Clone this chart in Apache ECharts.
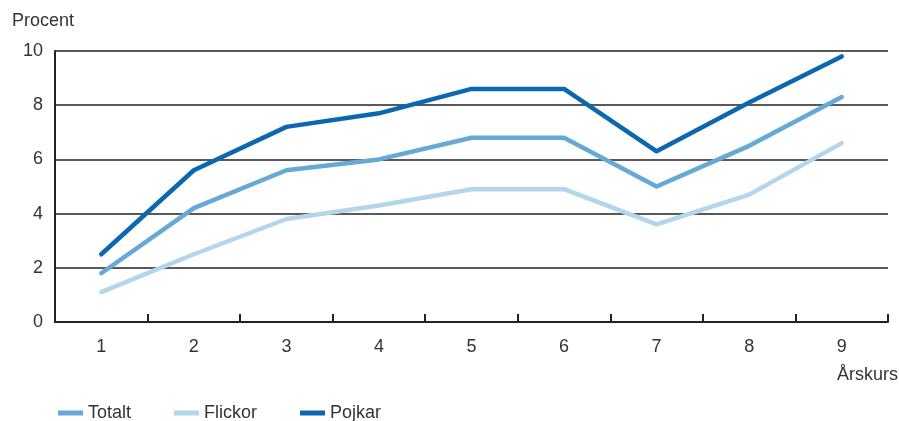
<!DOCTYPE html>
<html><head><meta charset="utf-8">
<script src="https://cdn.jsdelivr.net/npm/echarts@6/dist/echarts.min.js"></script>
<style>html,body{margin:0;padding:0;background:#fff}#c{width:899px;height:421px}</style>
</head><body><div id="c"></div>
<script>
const categories = ['1','2','3','4','5','6','7','8','9'];
const totalt = [1.8, 4.2, 5.6, 6.0, 6.8, 6.8, 5.0, 6.5, 8.3];
const flickor = [1.1, 2.5, 3.8, 4.3, 4.9, 4.9, 3.6, 4.7, 6.6];
const pojkar = [2.5, 5.6, 7.2, 7.7, 8.6, 8.6, 6.3, 8.1, 9.8];
const yTicks = [0, 2, 4, 6, 8, 10];

const font = 'Liberation Sans';
const chart = echarts.init(document.getElementById('c'));
const mk = (name, data, color) => ({
  name, type: 'line', data, symbol: 'none', smooth: false,
  lineStyle: { width: 4.5, color, cap: 'round', join: 'round' }, itemStyle: { color }
});
chart.setOption({
  animation: false,
  textStyle: { fontFamily: font },
  grid: { left: 55, right: 11, top: 51, bottom: 99 },
  xAxis: {
    type: 'category', data: categories, boundaryGap: true,
    axisLine: { lineStyle: { color: '#222', width: 2 } },
    axisTick: { show: true, inside: true, length: 8, lineStyle: { color: '#222', width: 2 } },
    axisLabel: { color: '#333', fontSize: 18, margin: 16, fontFamily: font }
  },
  yAxis: {
    type: 'value', min: yTicks[0], max: yTicks[yTicks.length - 1], interval: 2,
    axisLine: { show: true, lineStyle: { color: '#222', width: 2 } },
    axisTick: { show: false },
    axisLabel: { color: '#333', fontSize: 18, margin: 12, fontFamily: font }, 
    splitLine: { lineStyle: { color: '#222', width: 1.5 } }
  },
  legend: {
    left: 58, top: 404, itemWidth: 25, itemHeight: 5, itemGap: 43, icon: 'rect', padding: 0,
    textStyle: { color: '#333', fontSize: 18, fontFamily: font },
    data: ['Totalt', 'Flickor', 'Pojkar']
  },
  graphic: [
    { type: 'text', left: 12, top: 12, style: { text: 'Procent', fill: '#333', font: '18px "Liberation Sans"' } },
    { type: 'text', right: 1, top: 366, style: { text: 'Årskurs', fill: '#333', font: '18px "Liberation Sans"' } }
  ],
  series: [
    mk('Totalt', totalt, '#66a9d6'),
    mk('Flickor', flickor, '#b4d6ec'),
    mk('Pojkar', pojkar, '#0a67b0')
  ]
});
</script></body></html>
